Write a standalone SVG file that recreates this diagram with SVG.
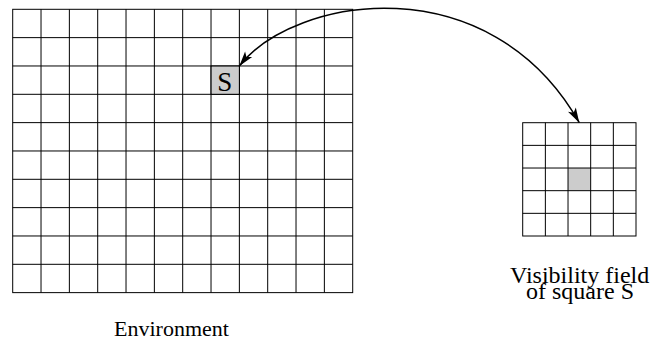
<svg xmlns="http://www.w3.org/2000/svg" width="662" height="343" viewBox="0 0 662 343">
<style>
.grid{fill:none;stroke:#000;stroke-width:1}
.hl{fill:#cccccc;stroke:none}
.lbl{font-family:"Liberation Serif","Times New Roman",serif;fill:#000}
.conn{fill:none;stroke:#000;stroke-width:1.5}
</style>
<defs>
<marker id="ah" markerUnits="userSpaceOnUse" markerWidth="20" markerHeight="12" viewBox="-16 -6 18 12" refX="0" refY="0" orient="auto-start-reverse">
<path d="M0,0 L-15,-4.5 L-11.5,0 L-15,4.5 Z" fill="#000"/>
</marker>
</defs>
<g id="environment">
<rect class="grid" x="12.7" y="9.3" width="340" height="283.33"/>
<path class="grid" d="M41.03,9.3V292.63M69.37,9.3V292.63M97.7,9.3V292.63M126.03,9.3V292.63M154.37,9.3V292.63M182.7,9.3V292.63M211.03,9.3V292.63M239.37,9.3V292.63M267.7,9.3V292.63M296.03,9.3V292.63M324.37,9.3V292.63M12.7,37.63H352.7M12.7,65.97H352.7M12.7,94.3H352.7M12.7,122.63H352.7M12.7,150.97H352.7M12.7,179.3H352.7M12.7,207.63H352.7M12.7,235.97H352.7M12.7,264.3H352.7"/>
<text class="lbl" x="114" y="336" font-size="22">Environment</text>
</g>
<g id="square-s">
<rect class="hl" x="211.53" y="66.47" width="27.33" height="27.33"/>
<rect class="grid" x="211.03" y="65.97" width="28.33" height="28.33"/>
<text class="lbl" x="224.8" y="91" font-size="27" text-anchor="middle">S</text>
</g>
<g id="visibility-field">
<rect class="hl" x="568.02" y="168.02" width="22.66" height="22.66"/>
<rect class="grid" x="522.7" y="122.7" width="113.3" height="113.3"/>
<path class="grid" d="M545.36,122.7V236M568.02,122.7V236M590.68,122.7V236M613.34,122.7V236M522.7,145.36H636M522.7,168.02H636M522.7,190.68H636M522.7,213.34H636"/>
<text class="lbl" font-size="24"><tspan x="510" y="282.5">Visibility field</tspan><tspan x="526" y="298.5">of square S</tspan></text>
</g>
<g id="connectors">
<path class="conn" d="M239.37,65.97 C295,-5 490,-35 579.3,122.7" marker-start="url(#ah)" marker-end="url(#ah)"/>
</g>
</svg>
